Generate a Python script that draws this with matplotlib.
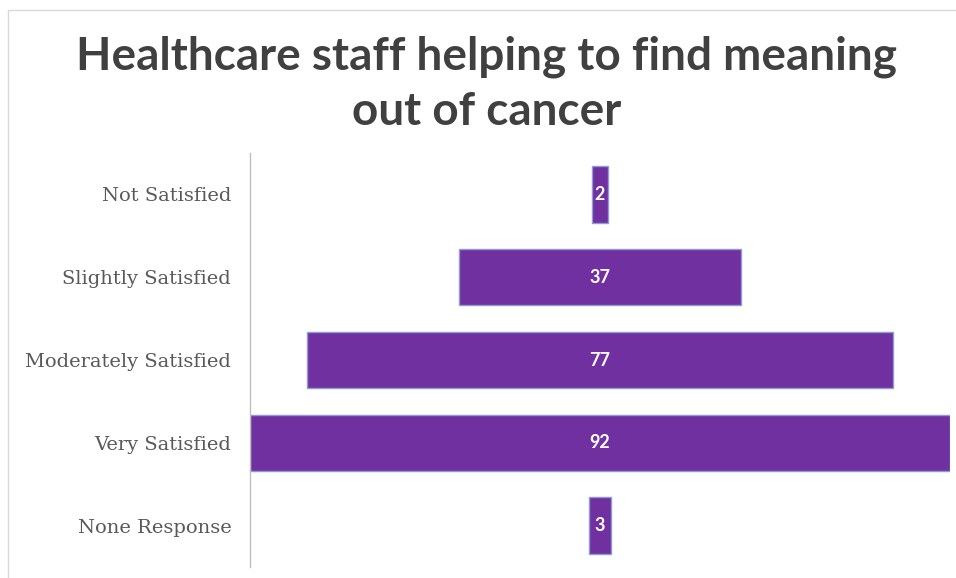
import matplotlib.pyplot as plt
from matplotlib.patches import Rectangle

# data
categories = ['Not Satisfied', 'Slightly Satisfied', 'Moderately Satisfied',
              'Very Satisfied', 'None Response']
counts = [2, 37, 77, 92, 3]

bar_color = '#7030A0'
edge_color = '#8E9BD6'

fig = plt.figure(figsize=(9.56, 5.78), dpi=100)
fig.patch.set_facecolor('white')

# thin outer chart frame (top / left visible)
fig.patches.append(Rectangle((8 / 956, -0.1), 1.2, (578 - 10) / 578 + 0.1,
                             transform=fig.transFigure, fill=False,
                             edgecolor='#D9D9D9', linewidth=1.0))

ax = fig.add_axes([250 / 956, (578 - 567) / 578, 700 / 956, (567 - 153) / 578])

top = max(counts)
y = range(len(categories))
lefts = [(top - v) / 2 for v in counts]
bars = ax.barh(y, counts, left=lefts, height=0.68, color=bar_color,
               edgecolor=edge_color, linewidth=1.0)

for b, v in zip(bars, counts):
    ax.text(b.get_x() + b.get_width() / 2, b.get_y() + b.get_height() / 2,
            str(v), ha='center', va='center', color='white',
            fontsize=13, family='Lato', fontweight='bold')

ax.set_xlim(0, top)
ax.set_ylim(len(categories) - 0.5, -0.5)
ax.set_yticks(list(y))
ax.set_yticklabels(categories, family='DejaVu Serif', fontsize=14, color='#595959')
ax.tick_params(axis='y', length=0, pad=13.5)
ax.set_xticks([])
for s in ['top', 'right', 'bottom']:
    ax.spines[s].set_visible(False)
ax.spines['left'].set_color('#BFBFBF')
ax.spines['left'].set_linewidth(1.0)

fig.text(487 / 956, 1 - 57 / 578, 'Healthcare staff helping to find meaning',
         ha='center', va='center', fontsize=33, fontweight='bold',
         family='Lato', color='#404040')
fig.text(487 / 956, 1 - 112 / 578, 'out of cancer',
         ha='center', va='center', fontsize=33, fontweight='bold',
         family='Lato', color='#404040')

fig.savefig('out.png', dpi=100)
